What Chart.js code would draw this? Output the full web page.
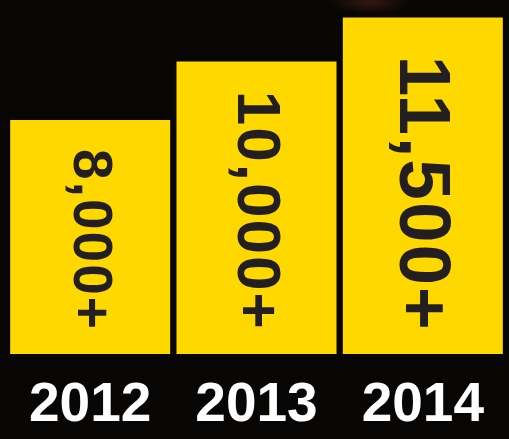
<!DOCTYPE html>
<html>
<head>
<meta charset="utf-8">
<script src="https://cdn.jsdelivr.net/npm/chart.js@4/dist/chart.umd.min.js"></script>
<style>
  html, body { margin: 0; padding: 0; background: #080605; }
  #wrap {
    width: 509px; height: 439px; position: relative;
    background: radial-gradient(ellipse 40px 12px at 370px 2px, rgba(90, 40, 25, 0.55), rgba(8, 6, 5, 0) 100%), #080605;
  }
</style>
</head>
<body>
<div id="wrap"><canvas id="growthChart"></canvas></div>
<script>
// du lieu
const years = ['2012', '2013', '2014'];
const totals = [8000, 10000, 11500];
const totalLabels = ['8,000+', '10,000+', '11,500+'];

// co chu cho nhan xoay trong tung cot
const labelFontSizes = [55, 62, 73];

// ve nhan doc ben trong cot (xoay 90 do)
const barTextPlugin = {
    id: 'barText',
    afterDatasetsDraw(chart) {
        const ctx = chart.ctx;
        const meta = chart.getDatasetMeta(0);
        meta.data.forEach((bar, i) => {
            const fs = labelFontSizes[i];
            const cy = (bar.y + bar.base) / 2 + (i === 2 ? 8 : 3);
            const cx = bar.x + 3.5 - fs * 0.716 / 2;
            ctx.save();
            ctx.translate(cx, cy);
            ctx.rotate(Math.PI / 2);
            ctx.font = 'bold ' + fs + 'px "Liberation Sans", Arial, sans-serif';
            ctx.fillStyle = '#231F20';
            ctx.textAlign = 'center';
            ctx.textBaseline = 'alphabetic';
            ctx.letterSpacing = '2px';
            ctx.fillText(totalLabels[i], 0, 0);
            ctx.restore();
        });
    }
};

const ctx = document.getElementById('growthChart').getContext('2d');
new Chart(ctx, {
    type: 'bar',
    data: {
        labels: years,
        datasets: [{
            data: totals,
            backgroundColor: '#FFD800',
            borderWidth: 0,
            barPercentage: 0.962,
            categoryPercentage: 1
        }]
    },
    options: {
        responsive: true,
        maintainAspectRatio: false,
        animation: false,
        layout: { padding: { left: 7, right: 3, top: 0, bottom: 0 } },
        plugins: { legend: { display: false }, tooltip: { enabled: false } },
        scales: {
            x: {
                grid: { display: false, drawTicks: false },
                border: { display: false },
                ticks: {
                    color: '#FFFFFF',
                    padding: 19,
                    font: { family: '"Liberation Sans", Arial, sans-serif', size: 55, weight: 'bold' }
                },
                afterFit(scale) { scale.height = 85; }
            },
            y: {
                display: false,
                min: 0,
                max: 12100
            }
        }
    },
    plugins: [barTextPlugin]
});
</script>
</body>
</html>
